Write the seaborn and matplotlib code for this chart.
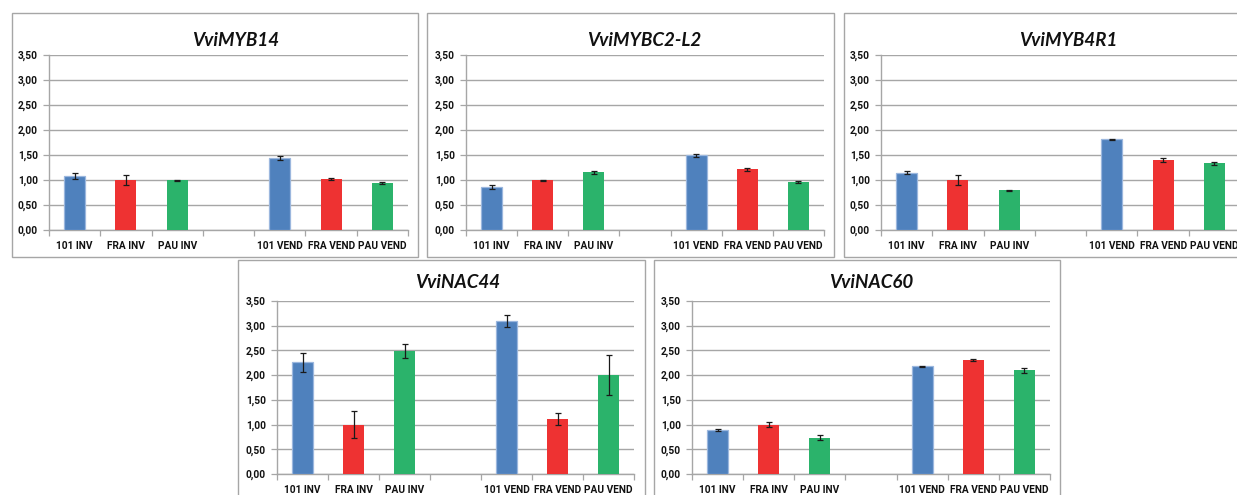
import matplotlib
matplotlib.use("Agg")
import matplotlib.pyplot as plt
from matplotlib.patches import Rectangle
import seaborn as sns
import pandas as pd

# Samples: rootstock x stage, with an empty slot between the two stages
samples = ["101 INV", "FRA INV", "PAU INV", "101 VEND", "FRA VEND", "PAU VEND"]
slot_order = ["101 INV", "FRA INV", "PAU INV", " ", "101 VEND", "FRA VEND", "PAU VEND"]

genes = ["VviMYB14", "VviMYBC2-L2", "VviMYB4R1", "VviNAC44", "VviNAC60"]

# Relative expression (mean) and standard error for each gene
myb14_mean = [1.09, 1.00, 1.00, 1.44, 1.02, 0.94]
myb14_err = [0.06, 0.10, 0.01, 0.04, 0.02, 0.02]

mybc2l2_mean = [0.86, 1.00, 1.16, 1.50, 1.22, 0.96]
mybc2l2_err = [0.04, 0.01, 0.03, 0.03, 0.03, 0.02]

myb4r1_mean = [1.15, 1.00, 0.80, 1.82, 1.40, 1.34]
myb4r1_err = [0.03, 0.10, 0.01, 0.01, 0.04, 0.03]

nac44_mean = [2.26, 1.00, 2.49, 3.09, 1.11, 2.00]
nac44_err = [0.19, 0.28, 0.14, 0.12, 0.12, 0.40]

nac60_mean = [0.89, 1.00, 0.73, 2.18, 2.30, 2.10]
nac60_err = [0.02, 0.05, 0.05, 0.01, 0.02, 0.05]

y_ticks = [0.0, 0.5, 1.0, 1.5, 2.0, 2.5, 3.0, 3.5]
y_tick_labels = ["0,00", "0,50", "1,00", "1,50", "2,00", "2,50", "3,00", "3,50"]

BLUE, RED, GREEN = "#4F81BD", "#EE3232", "#2BB36B"
palette = {"101 INV": BLUE, "FRA INV": RED, "PAU INV": GREEN,
           "101 VEND": BLUE, "FRA VEND": RED, "PAU VEND": GREEN}

sns.set_theme(style="white")
plt.rcParams["font.family"] = ["Lato", "DejaVu Sans"]
plt.rcParams["font.weight"] = "bold"

TICK_FONT = ["Roboto", "DejaVu Sans"]

W, H = 1237, 495
fig = plt.figure(figsize=(W / 100, H / 100), dpi=100)
fig.patch.set_facecolor("white")


def fx(px):
    return px / W


def fy(py):
    return 1 - py / H


# Pixel layout of each chart: frame box, plot area, title centre
layout = [
    dict(box=(12, 13, 418, 257), area=(49, 55, 408, 230), tx=236, ty=40),
    dict(box=(427, 13, 834, 257), area=(466, 55, 824, 230), tx=644, ty=40),
    dict(box=(844, 13, 1250, 257), area=(881, 55, 1240, 230), tx=1068, ty=40),
    dict(box=(238, 260, 645, 510), area=(277, 301, 634, 474), tx=458, ty=283),
    dict(box=(654, 260, 1060, 510), area=(692, 301, 1050, 474), tx=871, ty=283),
]

series = [
    (myb14_mean, myb14_err),
    (mybc2l2_mean, mybc2l2_err),
    (myb4r1_mean, myb4r1_err),
    (nac44_mean, nac44_err),
    (nac60_mean, nac60_err),
]

for gene, (means, errs), lay in zip(genes, series, layout):
    bx0, by0, bx1, by1 = lay["box"]
    fig.patches.append(Rectangle((fx(bx0), fy(by1)), fx(bx1 - bx0), (by1 - by0) / H,
                                 transform=fig.transFigure, fill=False,
                                 edgecolor="#A6A6A6", linewidth=1.0, zorder=0))

    ax0, ay0, ax1, ay1 = lay["area"]
    ax = fig.add_axes([fx(ax0), fy(ay1), fx(ax1 - ax0), (ay1 - ay0) / H])
    ax.set_facecolor("none")

    df = pd.DataFrame({"sample": samples, "value": means})
    sns.barplot(data=df, x="sample", y="value", hue="sample", order=slot_order,
                palette=palette, saturation=1, width=0.41, legend=False,
                errorbar=None, linewidth=0, ax=ax, zorder=3)
    for p in ax.patches:
        fc = p.get_facecolor()
        if abs(fc[0] - 0x4F / 255) < 0.02 and abs(fc[2] - 0xBD / 255) < 0.02:
            p.set_edgecolor("#9BB7DE")
            p.set_linewidth(0.9)

    xpos = [slot_order.index(s) for s in samples]
    ax.errorbar(xpos, means, yerr=errs, fmt="none", ecolor="#1A1A1A",
                elinewidth=0.9, capsize=2.5, capthick=0.9, zorder=4)

    ax.set_xlim(-0.5, len(slot_order) - 0.5)
    ax.set_ylim(0, 3.5)
    ax.set_yticks(y_ticks)
    ax.set_yticklabels(y_tick_labels, family=TICK_FONT, fontweight="bold")
    ax.yaxis.grid(True, color="#A6A6A6", linewidth=1.0, zorder=0)
    ax.set_axisbelow(True)
    ax.set_xticks(range(len(slot_order)))
    ax.set_xticklabels(slot_order, family=TICK_FONT, fontweight="bold")
    ax.set_xticks([i + 0.5 for i in range(-1, len(slot_order))], minor=True)
    ax.tick_params(axis="x", which="major", length=0, pad=8,
                   labelsize=7.3, labelcolor="#111111")
    ax.tick_params(axis="x", which="minor", length=4, width=0.9,
                   color="#A6A6A6", direction="out", bottom=True)
    ax.tick_params(axis="y", length=4, width=0.9, color="#A6A6A6",
                   direction="out", left=True, pad=4, labelsize=7.3,
                   labelcolor="#111111")
    ax.set_xlabel("")
    ax.set_ylabel("")
    for side in ("top", "right"):
        ax.spines[side].set_visible(False)
    for side in ("left", "bottom"):
        ax.spines[side].set_color("#A6A6A6")
        ax.spines[side].set_linewidth(1.0)

    fig.text(fx(lay["tx"]), fy(lay["ty"]), gene, ha="center", va="center",
             fontsize=13.5, fontweight="bold", fontstyle="italic", color="#111111")

fig.savefig("out.png", dpi=100, facecolor="white")
